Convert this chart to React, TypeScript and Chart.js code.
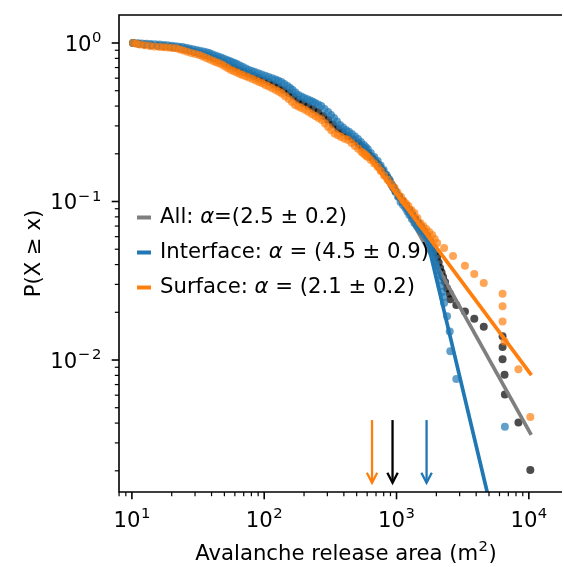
import { useEffect, useRef } from "react";
import { Chart, registerables } from "chart.js";

Chart.register(...registerables);

// ---------------- data ----------------
const ALL_X = [
  10.2, 11.3, 12.5, 14.0, 15.7, 17.4, 19.3, 21.0, 22.9, 25.0,
  27.2, 29.6, 32.3, 35.2, 38.4, 41.8, 45.6, 49.7, 54.2, 59.1,
  64.4, 70.2, 76.6, 83.5, 91.0, 99.1, 108, 118, 128, 140,
  153, 166, 181, 197, 215, 235, 256, 279, 304, 331,
  361, 394, 430, 469, 511, 533, 556, 581, 607, 633,
  661, 690, 721, 752, 785, 820, 856, 886, 917, 949,
  983, 1044, 1109, 1178, 1252, 1318, 1388, 1462, 1539, 1621,
  1707, 1797, 1893, 1960, 2028, 2081, 2136, 2192, 2250, 2328,
  2410, 2525, 2551, 2830, 3289, 3870, 4563, 6331, 6331, 6331,
  6553, 6592, 8344, 10260,
];
const ALL_Y = [
  1.0, 0.989, 0.978, 0.969, 0.960, 0.953, 0.946, 0.938, 0.930, 0.913,
  0.897, 0.877, 0.858, 0.840, 0.822, 0.799, 0.776, 0.748, 0.721, 0.698,
  0.676, 0.656, 0.637, 0.619, 0.601, 0.584, 0.567, 0.547, 0.528, 0.506,
  0.484, 0.460, 0.437, 0.418, 0.400, 0.383, 0.367, 0.346, 0.327, 0.306,
  0.287, 0.273, 0.259, 0.246, 0.234, 0.226, 0.218, 0.210, 0.202, 0.194,
  0.187, 0.179, 0.172, 0.164, 0.156, 0.148, 0.141, 0.134, 0.128, 0.122,
  0.116, 0.108, 0.101, 0.0944, 0.0884, 0.0828, 0.0776, 0.0732, 0.0690, 0.0647,
  0.0606, 0.0559, 0.0516, 0.0480, 0.0447, 0.0412, 0.0380, 0.0356, 0.0334, 0.0311,
  0.0283, 0.0263, 0.0242, 0.0222, 0.0202, 0.0182, 0.0162, 0.0141, 0.0121, 0.0101,
  0.00808, 0.00606, 0.00404, 0.00202,
];

const INTERFACE_X = [
  10.2, 11.0, 11.9, 12.9, 13.9, 15.0, 16.2, 17.4, 18.6, 20.0,
  21.4, 22.7, 24.1, 25.6, 27.2, 28.9, 30.7, 32.6, 34.6, 36.5,
  38.4, 40.4, 42.6, 44.8, 47.2, 49.7, 52.4, 54.7, 57.1, 59.6,
  62.2, 65.5, 69.0, 72.7, 76.6, 80.6, 84.9, 90.2, 95.8, 102,
  108, 115, 122, 128, 135, 142, 150, 157, 164, 172,
  181, 191, 201, 212, 223, 233, 243, 256, 270, 286,
  304, 320, 337, 355, 374, 394, 415, 437, 460, 485,
  511, 538, 566, 586, 607, 639, 679, 721, 759, 799,
  842, 886, 933, 983, 1026, 1072, 1119, 1168, 1209, 1252,
  1307, 1364, 1424, 1487, 1552, 1621, 1678, 1737, 1782, 1829,
  1861, 1893, 1926, 1960, 1994, 2028, 2064, 2100, 2154, 2211,
  2250, 2289, 2410, 2525, 2551, 2830, 6592,
];
const INTERFACE_Y = [
  1.0, 0.996, 0.993, 0.990, 0.986, 0.982, 0.978, 0.972, 0.967, 0.960,
  0.953, 0.948, 0.944, 0.933, 0.923, 0.913, 0.903, 0.893, 0.884, 0.874,
  0.865, 0.849, 0.834, 0.822, 0.810, 0.795, 0.781, 0.770, 0.759, 0.748,
  0.737, 0.721, 0.706, 0.691, 0.676, 0.666, 0.656, 0.644, 0.633, 0.621,
  0.610, 0.599, 0.589, 0.578, 0.567, 0.551, 0.535, 0.520, 0.505, 0.487,
  0.470, 0.460, 0.450, 0.442, 0.434, 0.426, 0.418, 0.409, 0.400, 0.383,
  0.367, 0.351, 0.336, 0.320, 0.304, 0.293, 0.283, 0.275, 0.267, 0.257,
  0.248, 0.237, 0.227, 0.220, 0.214, 0.202, 0.191, 0.180, 0.169, 0.158,
  0.147, 0.137, 0.125, 0.115, 0.107, 0.0993, 0.0950, 0.0910, 0.0865, 0.0822,
  0.0776, 0.0732, 0.0701, 0.0671, 0.0647, 0.0624, 0.0597, 0.0572, 0.0551, 0.0528,
  0.0502, 0.0477, 0.0447, 0.0415, 0.0392, 0.0370, 0.0344, 0.0320, 0.0293, 0.0269,
  0.0250, 0.0229, 0.0189, 0.01515, 0.01136, 0.00758, 0.00379,
];

const SURFACE_X = [
  10.2, 10.8, 11.5, 12.5, 13.6, 14.8, 16.2, 17.4, 18.6, 20.0,
  21.6, 23.0, 24.5, 26.2, 28.1, 30.1, 32.3, 34.3, 36.5, 38.8,
  41.2, 43.3, 45.6, 48.0, 50.6, 53.3, 56.1, 59.1, 62.2, 65.2,
  68.4, 72.4, 76.6, 81.4, 86.4, 91.4, 96.6, 102, 108, 115,
  122, 129, 136, 144, 153, 162, 171, 181, 191, 203,
  215, 229, 243, 257, 272, 288, 304, 321, 340, 360,
  381, 405, 430, 457, 485, 513, 542, 559, 576, 591,
  607, 639, 679, 721, 759, 806, 856, 910, 966, 1017,
  1081, 1128, 1178, 1230, 1295, 1364, 1437, 1513, 1593, 1678,
  1767, 1861, 1943, 2028, 2289, 2673, 3289, 3870, 4563, 6331,
  6331, 6331, 6553, 8344, 10260,
];
const SURFACE_Y = [
  1.0, 0.989, 0.978, 0.967, 0.957, 0.950, 0.944, 0.940, 0.937, 0.931,
  0.926, 0.911, 0.897, 0.881, 0.865, 0.852, 0.840, 0.822, 0.804, 0.787,
  0.770, 0.757, 0.745, 0.728, 0.711, 0.693, 0.676, 0.664, 0.652, 0.640,
  0.628, 0.617, 0.606, 0.593, 0.580, 0.568, 0.557, 0.544, 0.532, 0.518,
  0.505, 0.492, 0.480, 0.461, 0.443, 0.424, 0.406, 0.397, 0.389, 0.379,
  0.369, 0.357, 0.346, 0.336, 0.327, 0.311, 0.295, 0.282, 0.269, 0.262,
  0.255, 0.249, 0.244, 0.234, 0.224, 0.215, 0.206, 0.202, 0.198, 0.194,
  0.191, 0.183, 0.174, 0.165, 0.156, 0.146, 0.137, 0.129, 0.122, 0.114,
  0.107, 0.101, 0.0971, 0.0937, 0.0884, 0.0846, 0.0787, 0.0732, 0.0701, 0.0671,
  0.0642, 0.0614, 0.0580, 0.0547, 0.0509, 0.0453, 0.0393, 0.0349, 0.0306, 0.0262,
  0.0218, 0.0175, 0.0131, 0.00873, 0.00437,
];

// power-law fits (start on the data at x_min, end at the largest value)
const FIT_ALL_X = [933, 10260];
const FIT_ALL_Y = [0.125, 0.00345];
const FIT_INTERFACE_X = [1687, 6592];
const FIT_INTERFACE_Y = [0.0594, 0.000498];
const FIT_SURFACE_X = [653, 10260];
const FIT_SURFACE_Y = [0.180, 0.0082];

// x_min arrows
const ARROW_X = [653, 933, 1687];
const ARROW_COLORS = ["#ff7f0e", "#000000", "#1f77b4"];
const ARROW_Y_TOP = 0.00418;
const ARROW_Y_TIP = 0.00168;

const LEGEND_LABELS = [
  "All: α=(2.5 ± 0.2)",
  "Interface: α = (4.5 ± 0.9)",
  "Surface: α = (2.1 ± 0.2)",
];
const LEGEND_COLORS = ["#7f7f7f", "#1f77b4", "#ff7f0e"];

const X_TICKS = [10, 100, 1000, 10000];
const X_TICK_EXP = ["1", "2", "3", "4"];
const Y_TICKS = [1, 0.1, 0.01];
const Y_TICK_EXP = ["0", "\u22121", "\u22122"];
const X_TITLE = "Avalanche release area (m";
const Y_TITLE = "P(X \u2265 x)";

const X_MIN = 7.99;
const X_MAX = 17200;
const Y_MIN = 0.00147;
const Y_MAX = 1.502;

const FONT = '"DejaVu Sans", sans-serif';
const FS = 21.2;
const FS_SUP = 14.8;

const pts = (xs: number[], ys: number[]) => xs.map((x, i) => ({ x, y: ys[i] }));

function drawPow(ctx: CanvasRenderingContext2D, exp: string, x: number, yb: number, align: "center" | "right") {
  ctx.font = `${FS}px ${FONT}`;
  const wb = ctx.measureText("10").width;
  ctx.font = `${FS_SUP}px ${FONT}`;
  const neg = exp.startsWith("\u2212");
  const gap = neg ? 2 : 0;
  const we = ctx.measureText(exp).width + gap;
  const total = wb + we + 0.5;
  const left = align === "center" ? x - total / 2 : x - total;
  ctx.textAlign = "left";
  ctx.textBaseline = "alphabetic";
  ctx.font = `${FS}px ${FONT}`;
  ctx.fillText("10", left, yb);
  ctx.font = `${FS_SUP}px ${FONT}`;
  const ex = left + wb + 0.5;
  if (neg) {
    ctx.fillText("\u2212", ex, yb - 8.8);
    const wm = ctx.measureText("\u2212").width;
    ctx.fillText(exp.slice(1), ex + wm + gap, yb - 8.8);
  } else {
    ctx.fillText(exp, ex, yb - 8.8);
  }
}

function drawRich(ctx: CanvasRenderingContext2D, text: string, x: number, yb: number) {
  const parts = text.split("α");
  let cx = x;
  ctx.textAlign = "left";
  ctx.textBaseline = "alphabetic";
  parts.forEach((p, i) => {
    ctx.font = `${FS}px ${FONT}`;
    ctx.fillText(p, cx, yb);
    cx += ctx.measureText(p).width;
    if (i < parts.length - 1) {
      ctx.font = `italic ${FS}px ${FONT}`;
      ctx.fillText("α", cx, yb);
      cx += ctx.measureText("α").width;
    }
  });
}

const overlay = {
  id: "overlay",
  afterDraw(chart: any) {
    const ctx: CanvasRenderingContext2D = chart.ctx;
    const xs = chart.scales.x;
    const ys = chart.scales.y;
    const { left, top, right, bottom } = chart.chartArea;
    ctx.save();

    // arrows marking x_min
    ARROW_X.forEach((v, i) => {
      const x = xs.getPixelForValue(v);
      const y0 = ys.getPixelForValue(ARROW_Y_TOP);
      const y1 = ys.getPixelForValue(ARROW_Y_TIP);
      ctx.strokeStyle = ARROW_COLORS[i];
      ctx.lineWidth = 2.3;
      ctx.lineCap = "butt";
      ctx.lineJoin = "miter";
      ctx.beginPath();
      ctx.moveTo(x, y0);
      ctx.lineTo(x, y1);
      ctx.stroke();
      ctx.beginPath();
      ctx.moveTo(x - 5.2, y1 - 10);
      ctx.lineTo(x, y1);
      ctx.lineTo(x + 5.2, y1 - 10);
      ctx.stroke();
    });

    // spines
    ctx.strokeStyle = "#000";
    ctx.lineWidth = 1.6;
    ctx.lineCap = "butt";
    ctx.beginPath();
    ctx.moveTo(left - 0.8, top);
    ctx.lineTo(right + 2, top);
    ctx.moveTo(left, top);
    ctx.lineTo(left, bottom);
    ctx.moveTo(left - 0.8, bottom);
    ctx.lineTo(right + 2, bottom);
    ctx.stroke();

    // ticks (major at decades, minor at 2..9)
    ctx.fillStyle = "#000";
    for (let e = -3; e <= 4; e++) {
      for (let m = 1; m <= 9; m++) {
        const v = m * Math.pow(10, e);
        const major = m === 1;
        const len = major ? 7.3 : 4.2;
        ctx.lineWidth = major ? 1.6 : 1.2;
        if (v >= X_MIN && v <= X_MAX) {
          const px = xs.getPixelForValue(v);
          ctx.beginPath();
          ctx.moveTo(px, bottom);
          ctx.lineTo(px, bottom + len);
          ctx.stroke();
        }
        if (v >= Y_MIN && v <= Y_MAX) {
          const py = ys.getPixelForValue(v);
          ctx.beginPath();
          ctx.moveTo(left, py);
          ctx.lineTo(left - len, py);
          ctx.stroke();
        }
      }
    }

    // tick labels
    X_TICKS.forEach((v, i) => {
      drawPow(ctx, X_TICK_EXP[i], xs.getPixelForValue(v), bottom + 34.5, "center");
    });
    Y_TICKS.forEach((v, i) => {
      drawPow(ctx, Y_TICK_EXP[i], left - 17.5, ys.getPixelForValue(v) + 7.8, "right");
    });

    // x title with superscript
    ctx.font = `${FS}px ${FONT}`;
    const w1 = ctx.measureText(X_TITLE).width;
    const w3 = ctx.measureText(")").width;
    ctx.font = `${FS_SUP}px ${FONT}`;
    const w2 = ctx.measureText("2").width;
    const tot = w1 + w2 + w3 + 1;
    const cx = (left + 573) / 2;
    const sx = cx - tot / 2;
    const xb = bottom + 68;
    ctx.textAlign = "left";
    ctx.textBaseline = "alphabetic";
    ctx.font = `${FS}px ${FONT}`;
    ctx.fillText(X_TITLE, sx, xb);
    ctx.font = `${FS_SUP}px ${FONT}`;
    ctx.fillText("2", sx + w1 + 0.5, xb - 8.8);
    ctx.font = `${FS}px ${FONT}`;
    ctx.fillText(")", sx + w1 + w2 + 1, xb);

    // y title
    ctx.save();
    ctx.translate(40, (top + bottom) / 2);
    ctx.rotate(-Math.PI / 2);
    ctx.textAlign = "center";
    ctx.textBaseline = "alphabetic";
    ctx.font = `${FS}px ${FONT}`;
    ctx.fillText(Y_TITLE, 0, 0);
    ctx.restore();

    // legend
    LEGEND_LABELS.forEach((label, i) => {
      const yb = 223.3 + i * 35;
      ctx.strokeStyle = LEGEND_COLORS[i];
      ctx.lineWidth = 4;
      ctx.lineCap = "butt";
      ctx.beginPath();
      ctx.moveTo(137, yb - 5.8);
      ctx.lineTo(151, yb - 5.8);
      ctx.stroke();
      ctx.fillStyle = "#000";
      drawRich(ctx, label, 160, yb);
    });

    ctx.restore();
  },
};

export default function App() {
  const ref = useRef<HTMLCanvasElement | null>(null);
  useEffect(() => {
    if (!ref.current) return;
    const lineDs = (label: string, xs: number[], ys: number[], color: string) => ({
      type: "scatter" as const,
      label,
      data: pts(xs, ys),
      showLine: true,
      borderColor: color,
      backgroundColor: color,
      borderWidth: 3.7,
      borderCapStyle: "square" as const,
      pointRadius: 0,
      clip: 0,
    });
    const dotDs = (label: string, xs: number[], ys: number[], color: string) => ({
      type: "scatter" as const,
      label,
      data: pts(xs, ys),
      showLine: false,
      backgroundColor: color,
      borderWidth: 0,
      pointRadius: 4,
      pointHoverRadius: 4,
    });
    // Chart.js draws the first dataset on top: order = orange fit, orange data,
    // blue fit, blue data, gray fit, black data (bottom)
    const chart = new Chart(ref.current, {
      type: "scatter",
      data: {
        datasets: [
          lineDs(LEGEND_LABELS[2], FIT_SURFACE_X, FIT_SURFACE_Y, "#ff7f0e"),
          dotDs("Surface data", SURFACE_X, SURFACE_Y, "rgba(255,127,14,0.7)"),
          lineDs(LEGEND_LABELS[1], FIT_INTERFACE_X, FIT_INTERFACE_Y, "#1f77b4"),
          dotDs("Interface data", INTERFACE_X, INTERFACE_Y, "rgba(31,119,180,0.7)"),
          lineDs(LEGEND_LABELS[0], FIT_ALL_X, FIT_ALL_Y, "#7f7f7f"),
          dotDs("All data", ALL_X, ALL_Y, "rgba(0,0,0,0.7)"),
        ] as any,
      },
      options: {
        animation: false,
        responsive: false,
        devicePixelRatio: 1,
        events: [],
        layout: { padding: { left: 119, top: 15, right: 0, bottom: 75 } },
        scales: {
          x: { type: "logarithmic", min: X_MIN, max: X_MAX, display: false },
          y: { type: "logarithmic", min: Y_MIN, max: Y_MAX, display: false },
        },
        plugins: { legend: { display: false }, tooltip: { enabled: false } },
      },
      plugins: [overlay],
    });
    return () => chart.destroy();
  }, []);
  return (
    <div style={{ position: "fixed", left: 0, top: 0, width: 564, height: 567, overflow: "hidden", background: "#fff" }}>
      <canvas ref={ref} width={564} height={567} style={{ display: "block", width: 564, height: 567 }} />
    </div>
  );
}
